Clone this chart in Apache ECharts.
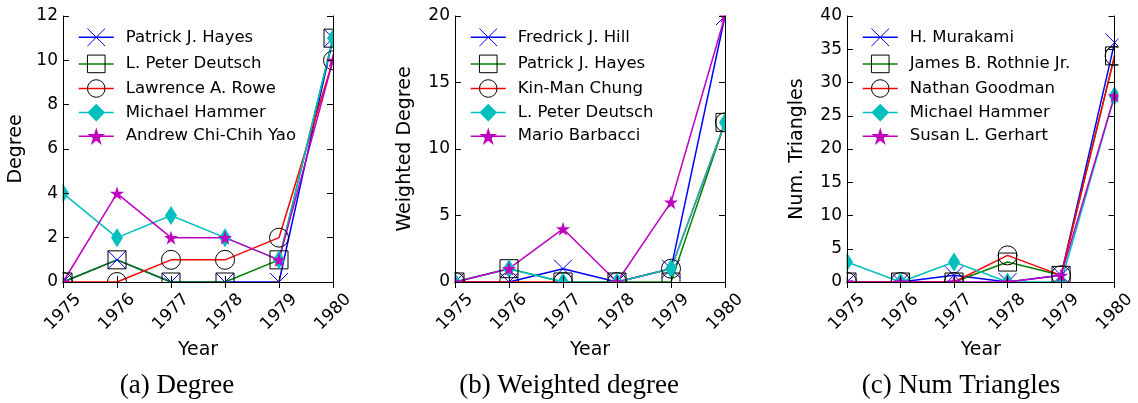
<!DOCTYPE html>
<html><head><meta charset="utf-8">
<script src="https://cdn.jsdelivr.net/npm/echarts@6/dist/echarts.min.js"></script>
<style>html,body{margin:0;padding:0;background:#fff}#c{width:1138px;height:403px}</style>
</head><body><div id="c"></div>
<script>
const years = [1975, 1976, 1977, 1978, 1979, 1980];

const degreeNames = ['Patrick J. Hayes', 'L. Peter Deutsch', 'Lawrence A. Rowe', 'Michael Hammer', 'Andrew Chi-Chih Yao'];
const degreeHayes   = [0, 1, 0, 0, 0, 11];
const degreeDeutsch = [0, 1, 0, 0, 1, 11];
const degreeRowe    = [0, 0, 1, 1, 2, 10];
const degreeHammer  = [4, 2, 3, 2, 1, 11];
const degreeYao     = [0, 4, 2, 2, 1, 10];

const wdegNames = ['Fredrick J. Hill', 'Patrick J. Hayes', 'Kin-Man Chung', 'L. Peter Deutsch', 'Mario Barbacci'];
const wdegHill     = [0, 0, 1, 0, 1, 20];
const wdegHayes    = [0, 1, 0, 0, 0, 12];
const wdegChung    = [0, 0, 0, 0, 1, 12];
const wdegDeutsch  = [0, 1, 0, 0, 1, 12];
const wdegBarbacci = [0, 1, 4, 0, 6, 20];

const triNames = ['H. Murakami', 'James B. Rothnie Jr.', 'Nathan Goodman', 'Michael Hammer', 'Susan L. Gerhart'];
const triMurakami = [0, 0, 1, 0, 1, 36];
const triRothnie  = [0, 0, 0, 3, 1, 34];
const triGoodman  = [0, 0, 0, 4, 1, 34];
const triHammer   = [3, 0, 3, 0, 0, 28];
const triGerhart  = [0, 0, 0, 0, 1, 28];

const panelCaptions = ['(a) Degree', '(b) Weighted degree', '(c) Num Triangles'];
const yAxisNames = ['Degree', 'Weighted Degree', 'Num. Triangles'];
const xAxisName = 'Year';
const yMaxes = [12, 20, 40];
const yIntervals = [2, 5, 5];

const panels = [
  { names: degreeNames, values: [degreeHayes, degreeDeutsch, degreeRowe, degreeHammer, degreeYao] },
  { names: wdegNames, values: [wdegHill, wdegHayes, wdegChung, wdegDeutsch, wdegBarbacci] },
  { names: triNames, values: [triMurakami, triRothnie, triGoodman, triHammer, triGerhart] }
];

const X_PATH = 'path://M0,0L10,10M10,0L0,10';
const STAR_PATH = 'path://M50,0L61.2,34.5L97.6,34.5L68.2,55.9L79.4,90.5L50,69.1L20.6,90.5L31.8,55.9L2.4,34.5L38.8,34.5Z';
const markStyles = [
  { line: '#0000ff', symbol: X_PATH, size: 18, item: { color: 'none', borderColor: '#0000ff', borderWidth: 1 } },
  { line: '#008000', symbol: 'rect', size: 18, item: { color: 'rgba(0,0,0,0)', borderColor: '#000', borderWidth: 1 } },
  { line: '#ff0000', symbol: 'circle', size: 19, item: { color: 'rgba(0,0,0,0)', borderColor: '#000', borderWidth: 1 } },
  { line: '#00bfbf', symbol: 'diamond', size: [12, 19], item: { color: '#00bfbf', borderWidth: 0 } },
  { line: '#bf00bf', symbol: STAR_PATH, size: 14, item: { color: '#bf00bf', borderWidth: 0 } }
];

const FONT = 'DejaVu Sans';
const gridBoxes = [
  { left: 63, top: 16, width: 270, height: 266 },
  { left: 455, top: 16, width: 270, height: 266 },
  { left: 847, top: 16, width: 271, height: 266 }
];
const yNameGaps = [37, 40, 40];
const captionX = [177, 569, 961];
const prefixes = ['a|', 'b|', 'c|'];

const grid = [], xAxis = [], yAxis = [], series = [], legend = [], elements = [];
gridBoxes.forEach((g, i) => {
  grid.push(Object.assign({ containLabel: false }, g));
  const tickIn = { show: true, inside: true, length: 6, lineStyle: { color: '#000', width: 1 } };
  const line = { show: true, lineStyle: { color: '#000', width: 1 } };
  xAxis.push({
    type: 'value', gridIndex: i, min: years[0], max: years[years.length - 1], interval: 1, position: 'bottom', zlevel: 2, z: 10,
    axisLine: line, axisTick: tickIn, splitLine: { show: false },
    axisLabel: { rotate: 45, align: 'center', verticalAlign: 'middle', margin: 30, fontFamily: FONT, fontSize: 17, color: '#000', formatter: v => String(v) },
    name: xAxisName, nameLocation: 'middle', nameGap: 52, nameTextStyle: { fontFamily: FONT, fontSize: 19, color: '#000' }
  });
  xAxis.push({
    type: 'value', gridIndex: i, min: years[0], max: years[years.length - 1], interval: 1, position: 'top', zlevel: 2, z: 10,
    axisLine: line, axisTick: tickIn, axisLabel: { show: false }, splitLine: { show: false }
  });
  yAxis.push({
    type: 'value', gridIndex: i, min: 0, max: yMaxes[i], interval: yIntervals[i], position: 'left', zlevel: 2, z: 10,
    axisLine: line, axisTick: tickIn, splitLine: { show: false },
    axisLabel: { margin: 5, fontFamily: FONT, fontSize: 17, color: '#000' },
    name: yAxisNames[i], nameLocation: 'middle', nameGap: yNameGaps[i], nameRotate: 90,
    nameTextStyle: { fontFamily: FONT, fontSize: 19, color: '#000' }
  });
  yAxis.push({
    type: 'value', gridIndex: i, min: 0, max: yMaxes[i], interval: yIntervals[i], position: 'right', zlevel: 2, z: 10,
    axisLine: line, axisTick: tickIn, axisLabel: { show: false }, splitLine: { show: false }
  });
  const p = panels[i];
  const legendNames = [];
  p.names.forEach((nm, k) => {
    const st = markStyles[k];
    const sname = prefixes[i] + nm;
    legendNames.push(sname);
    series.push({
      type: 'line', name: sname, xAxisIndex: 2 * i, yAxisIndex: 2 * i,
      data: years.map((y, j) => [y, p.values[k][j]]),
      symbol: st.symbol, symbolSize: st.size, showSymbol: true, clip: false,
      lineStyle: { color: st.line, width: 1.5 },
      itemStyle: st.item, z: 2, zlevel: 0, animation: false
    });
  });
  legend.push({
    data: legendNames, orient: 'vertical', left: g.left + 15, top: 26, padding: 0,
    itemWidth: 35, itemHeight: 22, itemGap: 6, selectedMode: false,
    formatter: n => n.slice(2),
    textStyle: { fontFamily: FONT, fontSize: 16.5, color: '#000', padding: [0, 0, 0, 7] },
    itemStyle: { borderWidth: 1 }, lineStyle: { width: 1.5 }
  });
  // white masks so markers are cut at the frame, as in the original
  const L = g.left, T = g.top, W = g.width, H = g.height, m = 14;
  [[L - m, T - m, m - 0.5, H + 2 * m], [L + W + 0.5, T - m, m, H + 2 * m],
   [L - m, T - m, W + 2 * m, m - 0.5], [L - m, T + H + 0.5, W + 2 * m, m]].forEach(r => {
    elements.push({ type: 'rect', zlevel: 1, z: 5, x: r[0], y: r[1], shape: { x: 0, y: 0, width: r[2], height: r[3] }, style: { fill: '#ffffff' }, silent: true });
  });
  elements.push({
    type: 'text', x: captionX[i], y: 386, zlevel: 2, z: 20,
    style: { text: panelCaptions[i], align: 'center', verticalAlign: 'middle', fontFamily: 'Liberation Serif', fontSize: 27, fill: '#000' }
  });
});

const chart = echarts.init(document.getElementById('c'), null, { renderer: 'canvas' });
chart.setOption({ animation: false, backgroundColor: '#fff', grid, xAxis, yAxis, series, legend, graphic: { elements } });
</script></body></html>
